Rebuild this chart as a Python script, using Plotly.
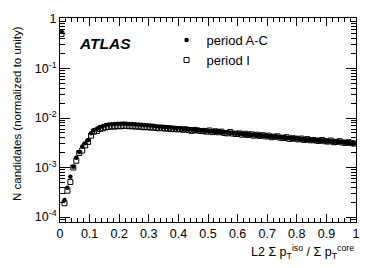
import plotly.graph_objects as go

bin_centers = [round(0.005 + 0.01 * i, 3) for i in range(100)]

period_ac = [
    0.55, 2.2e-4, 3.9e-4, 6.5e-4, 1.04e-3, 1.58e-3, 2.05e-3, 2.65e-3, 3.1e-3, 3.6e-3,
    4.9e-3, 5.7e-3, 6.1e-3, 6.6e-3, 6.9e-3, 7.2e-3, 7.4e-3, 7.5e-3, 7.6e-3, 7.7e-3,
    7.7e-3, 7.75e-3, 7.65e-3, 7.6e-3, 7.55e-3, 7.5e-3, 7.4e-3, 7.35e-3, 7.25e-3, 7.15e-3,
    7.05e-3, 6.95e-3, 6.85e-3, 6.75e-3, 6.7e-3, 6.6e-3, 6.5e-3, 6.45e-3, 6.35e-3, 6.25e-3,
    6.2e-3, 6.1e-3, 6.05e-3, 5.95e-3, 5.9e-3, 5.8e-3, 5.75e-3, 5.65e-3, 5.6e-3, 5.55e-3,
    5.5e-3, 5.4e-3, 5.35e-3, 5.3e-3, 5.25e-3, 5.15e-3, 5.1e-3, 5.05e-3, 4.95e-3, 4.9e-3,
    4.85e-3, 4.8e-3, 4.7e-3, 4.65e-3, 4.6e-3, 4.55e-3, 4.5e-3, 4.45e-3, 4.4e-3, 4.35e-3,
    4.3e-3, 4.25e-3, 4.2e-3, 4.15e-3, 4.1e-3, 4.05e-3, 4.0e-3, 3.95e-3, 3.9e-3, 3.85e-3,
    3.8e-3, 3.75e-3, 3.7e-3, 3.65e-3, 3.6e-3, 3.58e-3, 3.55e-3, 3.5e-3, 3.47e-3, 3.44e-3,
    3.4e-3, 3.36e-3, 3.33e-3, 3.3e-3, 3.27e-3, 3.24e-3, 3.2e-3, 3.17e-3, 3.13e-3, 3.1e-3,
]

period_i = [
    0.5, 1.9e-4, 3.4e-4, 5.1e-4, 1.0e-3, 1.37e-3, 1.96e-3, 2.2e-3, 2.8e-3, 3.3e-3,
    4.4e-3, 5.3e-3, 5.5e-3, 6.0e-3, 6.2e-3, 6.5e-3, 6.6e-3, 6.8e-3, 6.7e-3, 6.9e-3,
    6.8e-3, 6.9e-3, 6.95e-3, 6.8e-3, 6.85e-3, 6.7e-3, 6.75e-3, 6.6e-3, 6.5e-3, 6.6e-3,
    6.4e-3, 6.45e-3, 6.3e-3, 6.2e-3, 6.35e-3, 6.1e-3, 6.2e-3, 5.95e-3, 6.05e-3, 5.9e-3,
    6.0e-3, 5.8e-3, 5.9e-3, 5.7e-3, 5.5e-3, 5.75e-3, 5.6e-3, 5.45e-3, 5.5e-3, 5.3e-3,
    5.6e-3, 5.2e-3, 5.4e-3, 5.15e-3, 5.3e-3, 5.0e-3, 4.9e-3, 5.2e-3, 4.85e-3, 4.75e-3,
    4.9e-3, 4.6e-3, 4.8e-3, 4.55e-3, 4.7e-3, 4.4e-3, 4.6e-3, 4.35e-3, 4.5e-3, 4.25e-3,
    4.4e-3, 4.1e-3, 4.2e-3, 4.25e-3, 4.0e-3, 3.95e-3, 4.1e-3, 3.8e-3, 3.9e-3, 3.85e-3,
    3.7e-3, 3.85e-3, 3.6e-3, 3.75e-3, 3.55e-3, 3.6e-3, 3.5e-3, 3.45e-3, 3.6e-3, 3.4e-3,
    3.35e-3, 3.5e-3, 3.25e-3, 3.3e-3, 3.4e-3, 3.2e-3, 3.15e-3, 3.25e-3, 3.1e-3, 3.05e-3,
]

x_ticks = [0, 0.1, 0.2, 0.3, 0.4, 0.5, 0.6, 0.7, 0.8, 0.9, 1]
x_tick_labels = ["0", "0.1", "0.2", "0.3", "0.4", "0.5", "0.6", "0.7", "0.8", "0.9", "1"]
y_ticks = [1e-4, 1e-3, 1e-2, 1e-1, 1]
y_tick_labels = ["10<sup>-4</sup>", "10<sup>-3</sup>", "10<sup>-2</sup>", "10<sup>-1</sup>", "1"]
y_minor = [m * 10.0 ** e for e in range(-5, 0) for m in range(2, 10)]

FONT = "Liberation Sans, Arial, Helvetica, sans-serif"

fig = go.Figure()
fig.add_trace(go.Scatter(
    x=bin_centers, y=period_i, mode="markers", name="period I", legendgroup="b",
    marker=dict(symbol="square-open", size=5, color="black", line=dict(width=1, color="black")),
))
fig.add_trace(go.Scatter(
    x=bin_centers, y=period_ac, mode="markers", name="period A-C", legendgroup="a",
    marker=dict(symbol="circle", size=4.5, color="black"),
))

fig.update_layout(
    width=374, height=268,
    margin=dict(l=60, r=18, t=14, b=46),
    paper_bgcolor="white", plot_bgcolor="white",
    font=dict(family=FONT, size=12, color="black"),
    showlegend=True,
    legend=dict(
        x=0.36, y=0.965, xanchor="left", yanchor="top",
        bgcolor="rgba(0,0,0,0)", font=dict(size=13),
        traceorder="reversed",
    ),
)
fig.update_xaxes(
    range=[0, 1], tickvals=x_ticks, ticktext=x_tick_labels,
    ticks="inside", ticklen=8, tickwidth=1, tickcolor="black",
    minor=dict(ticks="inside", ticklen=4, dtick=0.02, tickcolor="black", tickwidth=1),
    showline=True, linecolor="black", linewidth=1, mirror="allticks",
    showgrid=False, zeroline=False, tickfont=dict(size=12.5),
)
fig.update_yaxes(
    type="log", range=[-4.1, 0.02], tickvals=y_ticks, ticktext=y_tick_labels,
    ticks="inside", ticklen=10, tickwidth=1, tickcolor="black",
    minor=dict(ticks="inside", ticklen=5, tickvals=y_minor, tickcolor="black", tickwidth=1),
    showline=True, linecolor="black", linewidth=1, mirror="allticks",
    showgrid=False, zeroline=False, tickfont=dict(size=12.5),
)

fig.add_annotation(
    text="<b><i>ATLAS</i></b>", xref="paper", yref="paper", x=0.058, y=0.875,
    xanchor="left", yanchor="middle", showarrow=False, font=dict(size=15.5, family=FONT),
)
fig.add_annotation(
    text="L2 Σ p<sub>T</sub><sup>iso</sup> / Σ p<sub>T</sub><sup>core</sup>",
    xref="paper", yref="paper", x=1.0, y=-0.145, xanchor="right", yanchor="middle",
    showarrow=False, font=dict(size=12.5, family=FONT),
)
fig.add_annotation(
    text="N candidates (normalized to unity)", xref="paper", yref="paper",
    x=-0.145, y=0.53, xanchor="center", yanchor="middle", textangle=-90,
    showarrow=False, font=dict(size=11.5, family=FONT),
)

fig.write_html(
    "out.html",
    config={"displayModeBar": False},
    post_script="document.body.style.margin='0';",
)
